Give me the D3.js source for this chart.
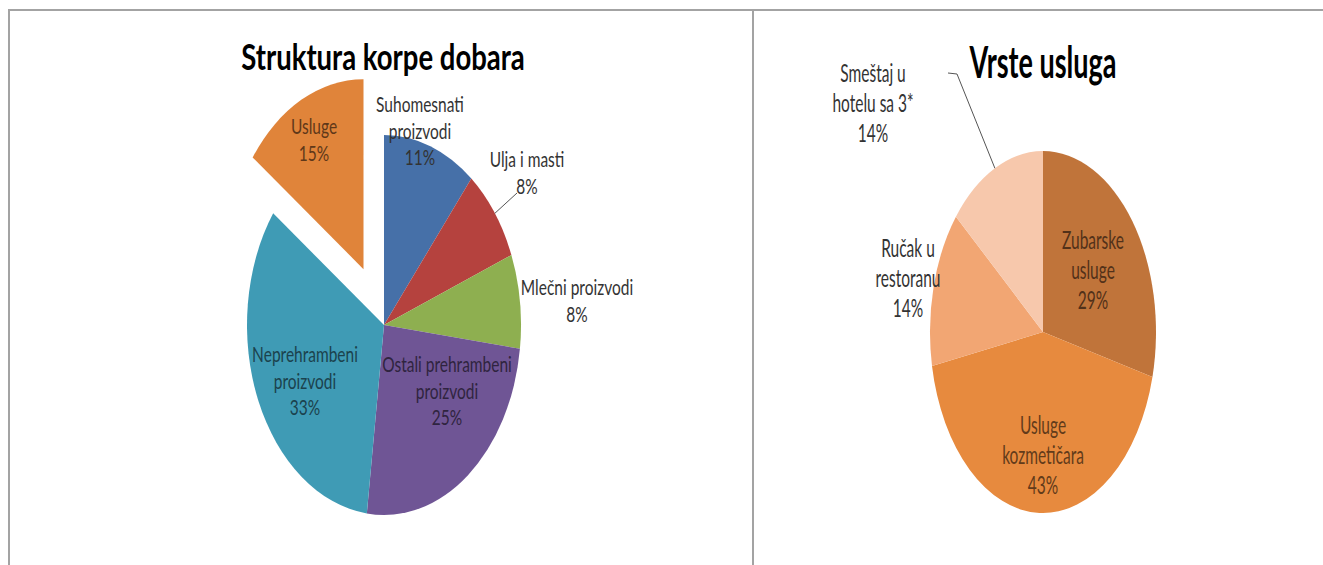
<!DOCTYPE html>
<html>
<head>
<meta charset="utf-8">
<script src="https://cdn.jsdelivr.net/npm/d3@7/dist/d3.min.js"></script>
<style>
  body { margin: 0; background: #fff; }
  svg { display: block; font-family: Lato, "Open Sans", sans-serif; }
</style>
</head>
<body>
<svg id="chart" width="1323" height="565"></svg>
<script>
// left pie: Struktura korpe dobara
var basketNames = [["Suhomesnati", "proizvodi"], ["Ulja i masti"], ["Mlečni proizvodi"],
  ["Ostali prehrambeni", "proizvodi"], ["Neprehrambeni", "proizvodi"], ["Usluge"]];
var basketValues = [11, 8, 8, 25, 33, 15];
var basketColors = ["#4670a8", "#b5423e", "#8eaf50", "#6f5595", "#3f9bb5", "#e0843a"];

// right pie: Vrste usluga
var serviceNames = [["Zubarske", "usluge"], ["Usluge", "kozmetičara"], ["Ručak u", "restoranu"], ["Smeštaj u", "hotelu sa 3*"]];
var serviceValues = [29, 43, 14, 14];
var serviceColors = ["#c0743a", "#e78a3e", "#f2a673", "#f7c8ac"];

var svg = d3.select("#chart");

// frame lines
svg.append("line").attr("x1", 8).attr("x2", 1323).attr("y1", 10).attr("y2", 10)
  .attr("stroke", "#a3a3a3").attr("stroke-width", 2);
svg.append("line").attr("x1", 9).attr("x2", 9).attr("y1", 10).attr("y2", 565)
  .attr("stroke", "#a3a3a3").attr("stroke-width", 2);
svg.append("line").attr("x1", 753).attr("x2", 753).attr("y1", 10).attr("y2", 565)
  .attr("stroke", "#a3a3a3").attr("stroke-width", 2);

// draws one elliptical pie, labels are offsets from centre (px)
function drawPie(opt) {
  var R = 100;
  var pie = d3.pie().sort(null).value(function(d) { return d; });
  var arcs = pie(opt.values);
  var arc = d3.arc().innerRadius(0).outerRadius(R);
  var sx = opt.rx / R, sy = opt.ry / R;

  var g = svg.append("g")
    .attr("transform", "translate(" + opt.cx + "," + opt.cy + ") scale(" + sx + "," + sy + ")");

  g.selectAll("path")
    .data(arcs)
    .enter()
    .append("path")
    .attr("d", arc)
    .attr("fill", function(d, i) { return opt.colors[i]; })
    .attr("transform", function(d, i) {
      if (i !== opt.explode) return null;
      var a = (d.startAngle + d.endAngle) / 2;
      return "translate(" + (Math.sin(a) * R * opt.explodeBy) + "," + (-Math.cos(a) * R * opt.explodeBy) + ")";
    });

  // leader lines
  opt.leaders.forEach(function(l) {
    var d = arcs[l.i];
    var a = (d.startAngle + d.endAngle) / 2;
    var pts = [[opt.cx + Math.sin(a) * opt.rx, opt.cy - Math.cos(a) * opt.ry]].concat(l.pts.map(function(p) {
      return [opt.cx + p[0], opt.cy + p[1]];
    }));
    svg.append("path")
      .attr("d", d3.line()(pts))
      .attr("fill", "none")
      .attr("stroke", "#555")
      .attr("stroke-width", 1);
  });

  // labels
  arcs.forEach(function(d, i) {
    var lines = opt.names[i].concat([d.value + "%"]);
    var pos = opt.labelPos[i];
    var col = pos[2] ? d3.color(opt.colors[i]).darker(2.4).toString() : "#333";
    var t = svg.append("g")
      .attr("transform", "translate(" + (opt.cx + pos[0]) + "," + (opt.cy + pos[1]) + ") scale(1," + opt.textStretch + ")");
    t.selectAll("text")
      .data(lines)
      .enter()
      .append("text")
      .attr("x", 0)
      .attr("y", function(s, k) { return k * opt.lineGap / opt.textStretch; })
      .attr("dy", "0.35em")
      .attr("text-anchor", "middle")
      .attr("font-size", 15.5)
      .attr("fill", col)
      .text(function(s) { return s; });
  });

  svg.append("g")
    .attr("transform", "translate(" + opt.titleX + "," + opt.titleY + ") scale(1," + opt.textStretch + ")")
    .append("text")
    .attr("text-anchor", "middle")
    .attr("dy", "0.35em")
    .attr("font-size", opt.titleSize)
    .attr("font-weight", "bold")
    .attr("fill", "#000")
    .text(opt.title);
}

drawPie({
  cx: 384, cy: 325, rx: 137, ry: 190,
  values: basketValues, colors: basketColors, names: basketNames,
  explode: 5, explodeBy: 0.33,
  textStretch: 1.35, lineGap: 26.5,
  labelPos: [[36, -220, false], [143, -165, false], [193, -37, false], [63, 40, true], [-79, 30, true], [-70, -198, true]],
  leaders: [{ i: 1, pts: [[133, -132]] }],
  title: "Struktura korpe dobara", titleX: 383, titleY: 57, titleSize: 27.5
});

drawPie({
  cx: 1043, cy: 332, rx: 113, ry: 181,
  values: serviceValues, colors: serviceColors, names: serviceNames,
  explode: -1, explodeBy: 0,
  textStretch: 1.6, lineGap: 30,
  labelPos: [[50, -92, true], [0, 93, true], [-135, -84, false], [-170, -259, false]],
  leaders: [{ i: 3, pts: [[-86, -258], [-95, -259]] }],
  title: "Vrste usluga", titleX: 1043, titleY: 63, titleSize: 27
});
</script>
</body>
</html>
